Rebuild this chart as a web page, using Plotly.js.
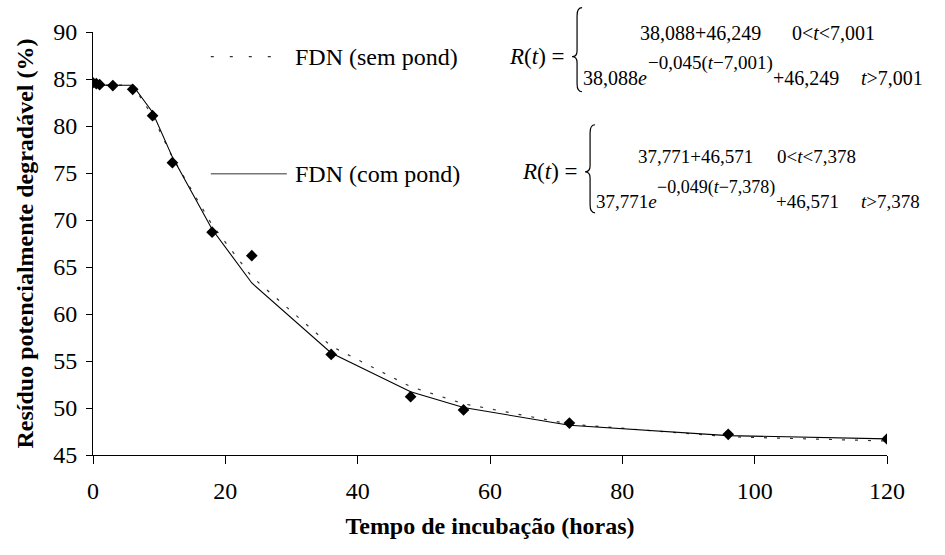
<!DOCTYPE html>
<html>
<head>
<meta charset="utf-8">
<script src="https://cdn.plot.ly/plotly-3.0.1.min.js"></script>
<style>
  html, body { margin: 0; padding: 0; background: #fff; }
  #chart { width: 945px; height: 555px; }
</style>
</head>
<body>
<div id="chart"></div>
<script>
// Incubation times (h) and observed residue (%)
const tObs = [0, 0.5, 1, 3, 6, 9, 12, 18, 24, 36, 48, 56, 72, 96, 120];
const rObs = [84.6, 84.5, 84.4, 84.3, 83.9, 81.1, 76.1, 68.7, 66.2, 55.7, 51.2, 49.8, 48.4, 47.2, 46.7];

// Fitted residue at the same times: unweighted (sem pond) and weighted (com pond)
const tFit = [0, 0.5, 1, 3, 6, 9, 12, 18, 24, 36, 48, 56, 72, 96, 120];
const rSem = [84.34, 84.34, 84.34, 84.34, 84.34, 81.06, 76.67, 69.47, 63.97, 56.58, 52.27, 50.45, 48.29, 46.94, 46.49];
const rCom = [84.34, 84.34, 84.34, 84.34, 84.34, 81.46, 76.69, 69.02, 63.30, 55.86, 51.73, 50.06, 48.16, 47.06, 46.72];

const xTicks = [0, 20, 40, 60, 80, 100, 120];
const yTicks = [45, 50, 55, 60, 65, 70, 75, 80, 85, 90];

const seriesNames = ['FDN (sem pond)', 'FDN (com pond)'];

const W = 945, H = 555;
const M = { l: 93.3, r: 58.3, t: 32.3, b: 100 };
const PW = W - M.l - M.r, PH = H - M.t - M.b;
const px = X => (X - M.l) / PW;
const py = Y => (H - M.b - Y) / PH;

const serif = '"Liberation Serif", "Times New Roman", "DejaVu Serif", serif';

const traces = [
  { x: tFit, y: rSem, mode: 'lines', name: seriesNames[0],
    line: { color: '#333', width: 1.2, dash: '3px,10px' }, showlegend: false },
  { x: tFit, y: rCom, mode: 'lines', name: seriesNames[1],
    line: { color: '#000', width: 1.1 }, showlegend: false },
  { x: tObs, y: rObs, mode: 'markers', name: 'FDN',
    marker: { symbol: 'diamond', size: 9, color: '#000' }, showlegend: false }
];

// Curly brace drawn in pixel space, converted to paper coordinates
function brace(xl, xr, yTop, yBot, yMid) {
  const P = (X, Y) => px(X).toFixed(5) + ',' + py(Y).toFixed(5);
  const xm = (xl + xr) / 2;
  return 'M' + P(xr, yTop) +
    ' Q' + P(xm, yTop) + ' ' + P(xm, yTop + 8) +
    ' L' + P(xm, yMid - 6) +
    ' Q' + P(xm, yMid) + ' ' + P(xl, yMid) +
    ' Q' + P(xm, yMid) + ' ' + P(xm, yMid + 6) +
    ' L' + P(xm, yBot - 8) +
    ' Q' + P(xm, yBot) + ' ' + P(xr, yBot);
}

function txt(text, X, Y, size, xanchor) {
  return { xref: 'paper', yref: 'paper', x: px(X), y: py(Y), text: text,
    showarrow: false, xanchor: xanchor || 'left', yanchor: 'middle',
    font: { family: serif, size: size, color: '#000' } };
}

const RT = '<i>R</i>(<i>t</i>) =&nbsp;';
const annotations = [
  // legend labels
  txt(seriesNames[0], 293, 57, 24),
  txt(seriesNames[1], 293, 174, 24),

  // unweighted model
  txt(RT, 572, 57, 23, 'right'),
  txt('38,088+46,249', 638, 33, 20),
  txt('0&lt;<i>t</i>&lt;7,001', 877, 33, 20, 'right'),
  txt('38,088<i>e</i>', 581, 78, 20),
  txt('−0,045(<i>t</i>−7,001)', 646, 63, 19),
  txt('+46,249', 771, 78, 20),
  txt('<i>t</i>&gt;7,001', 925, 78, 20, 'right'),

  // weighted model
  txt(RT, 585, 172, 23, 'right'),
  txt('37,771+46,571', 636, 157, 19),
  txt('0&lt;<i>t</i>&lt;7,378', 858, 157, 19, 'right'),
  txt('37,771<i>e</i>', 594, 202, 19),
  txt('−0,049(<i>t</i>−7,378)', 655, 188, 18),
  txt('+46,571', 774, 202, 19),
  txt('<i>t</i>&gt;7,378', 922, 202, 19, 'right')
];

const shapes = [
  // legend samples
  { type: 'line', xref: 'paper', yref: 'paper', x0: px(211), x1: px(275), y0: py(57), y1: py(57),
    line: { color: '#333', width: 1.2, dash: '3px,16px' } },
  { type: 'line', xref: 'paper', yref: 'paper', x0: px(211), x1: px(287), y0: py(174), y1: py(174),
    line: { color: '#777', width: 1.6 } },
  // braces
  { type: 'path', xref: 'paper', yref: 'paper', path: brace(572, 582, 8, 92, 57),
    line: { color: '#000', width: 1.2 } },
  { type: 'path', xref: 'paper', yref: 'paper', path: brace(585, 595, 125, 213, 172),
    line: { color: '#000', width: 1.2 } }
];

const layout = {
  width: W, height: H,
  margin: M,
  paper_bgcolor: '#fff', plot_bgcolor: '#fff',
  font: { family: serif, color: '#000' },
  showlegend: false,
  xaxis: {
    range: [0, 120], tickvals: xTicks, ticktext: xTicks.map(String),
    showgrid: false, zeroline: false, showline: true, linecolor: '#000', linewidth: 1,
    ticks: 'outside', ticklen: 8, tickcolor: '#000', tickwidth: 1,
    tickfont: { family: serif, size: 24, color: '#000' }, ticklabelstandoff: 6,
    title: { text: '<b>Tempo de incubação (horas)</b>', standoff: 14,
      font: { family: serif, size: 24, color: '#000' } }
  },
  yaxis: {
    range: [45, 90], tickvals: yTicks, ticktext: yTicks.map(String),
    showgrid: false, zeroline: false, showline: true, linecolor: '#000', linewidth: 1,
    ticks: 'outside', ticklen: 6, tickcolor: '#000', tickwidth: 1,
    tickfont: { family: serif, size: 24, color: '#000' }, ticklabelstandoff: 4,
    title: { text: '<b>Resíduo potencialmente degradável (%)</b>', standoff: 12,
      font: { family: serif, size: 24, color: '#000' } }
  },
  annotations: annotations,
  shapes: shapes
};

Plotly.newPlot('chart', traces, layout, { displayModeBar: false, staticPlot: true });
</script>
</body>
</html>
